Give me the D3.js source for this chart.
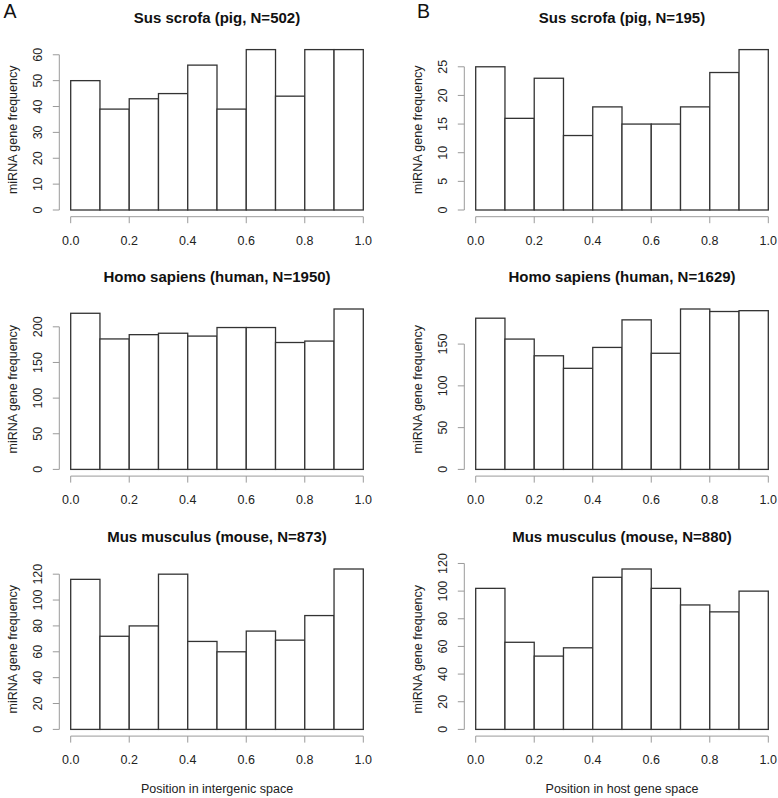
<!DOCTYPE html>
<html>
<head>
<meta charset="utf-8">
<script src="https://cdn.jsdelivr.net/npm/d3@7/dist/d3.min.js"></script>
<style>
  html, body { margin: 0; padding: 0; background: #fff; }
  svg { display: block; font-family: "Liberation Sans", Arial, sans-serif; }
</style>
</head>
<body>
<svg id="chart" width="778" height="798"></svg>
<script>
// ---- data ----
const binEdges = [0, 0.1, 0.2, 0.3, 0.4, 0.5, 0.6, 0.7, 0.8, 0.9, 1.0];
const xTicks = [0, 0.2, 0.4, 0.6, 0.8, 1.0];

const pigIntergenic   = [50, 39, 43, 45, 56, 39, 62, 44, 62, 62];
const pigHost         = [25, 16, 23, 13, 18, 15, 15, 18, 24, 28];
const humanIntergenic = [219, 183, 189, 191, 187, 199, 199, 178, 180, 225];
const humanHost       = [181, 156, 136, 121, 146, 179, 139, 192, 189, 190];
const mouseIntergenic = [116, 72, 80, 120, 68, 60, 76, 69, 88, 124];
const mouseHost       = [102, 63, 53, 59, 110, 116, 102, 90, 85, 100];

const yTicksPigA   = [0, 10, 20, 30, 40, 50, 60];
const yTicksPigB   = [0, 5, 10, 15, 20, 25];
const yTicksHumanA = [0, 50, 100, 150, 200];
const yTicksHumanB = [0, 50, 100, 150];
const yTicksMouseA = [0, 20, 40, 60, 80, 100, 120];
const yTicksMouseB = [0, 20, 40, 60, 80, 100, 120];

const titles = [
  ["Sus scrofa (pig, N=502)", "Sus scrofa (pig, N=195)"],
  ["Homo sapiens (human, N=1950)", "Homo sapiens (human, N=1629)"],
  ["Mus musculus (mouse, N=873)", "Mus musculus (mouse, N=880)"]
];
const seriesGrid = [
  [pigIntergenic, pigHost],
  [humanIntergenic, humanHost],
  [mouseIntergenic, mouseHost]
];
const tickGrid = [
  [yTicksPigA, yTicksPigB],
  [yTicksHumanA, yTicksHumanB],
  [yTicksMouseA, yTicksMouseB]
];
const yLabel = "miRNA gene frequency";
const xLabels = ["Position in intergenic space", "Position in host gene space"];
const panelLetters = ["A", "B"];

// ---- layout ----
const svg = d3.select("#chart");
const colX = [[70.7, 363.3], [475.7, 768.3]];
const rowTop = [0, 259.4, 519.4];
const baseOff = 210, topOff = 49.6;
const barStroke = "#333", axisStroke = "#9a9a9a";
const tickFont = 12.5;

for (let c = 0; c < 2; c++) {
  const x = d3.scaleLinear().domain([0, 1]).range(colX[c]);
  const yAxisX = colX[c][0] - 11.4;
  for (let r = 0; r < 3; r++) {
    const vals = seriesGrid[r][c];
    const ticks = tickGrid[r][c];
    const y0 = rowTop[r] + baseOff;
    const y = d3.scaleLinear().domain([0, d3.max(vals)]).range([y0, rowTop[r] + topOff]);
    const g = svg.append("g");

    // bars
    g.selectAll("rect.bar").data(vals).enter().append("rect")
      .attr("x", (d, i) => x(binEdges[i]))
      .attr("y", d => y(d))
      .attr("width", (d, i) => x(binEdges[i + 1]) - x(binEdges[i]))
      .attr("height", d => y(0) - y(d))
      .attr("fill", "#fff")
      .attr("stroke", barStroke)
      .attr("stroke-width", 1.3);

    // x axis
    const xAxisY = y0 + 6.7;
    const xa = g.append("g");
    xa.append("line").attr("x1", x(0)).attr("x2", x(1)).attr("y1", xAxisY).attr("y2", xAxisY)
      .attr("stroke", axisStroke).attr("stroke-width", 1);
    xa.selectAll("line.t").data(xTicks).enter().append("line")
      .attr("x1", d => x(d)).attr("x2", d => x(d))
      .attr("y1", xAxisY).attr("y2", xAxisY + 6.5)
      .attr("stroke", axisStroke).attr("stroke-width", 1);
    xa.selectAll("text").data(xTicks).enter().append("text")
      .attr("x", d => x(d)).attr("y", xAxisY + 27.8)
      .attr("text-anchor", "middle").attr("font-size", tickFont).attr("fill", "#222")
      .text(d => d3.format(".1f")(d));

    // y axis
    const ya = g.append("g");
    ya.append("line").attr("x1", yAxisX).attr("x2", yAxisX)
      .attr("y1", y(ticks[0])).attr("y2", y(ticks[ticks.length - 1]))
      .attr("stroke", axisStroke).attr("stroke-width", 1);
    ya.selectAll("line.t").data(ticks).enter().append("line")
      .attr("x1", yAxisX - 6.5).attr("x2", yAxisX)
      .attr("y1", d => y(d)).attr("y2", d => y(d))
      .attr("stroke", axisStroke).attr("stroke-width", 1);
    ya.selectAll("text").data(ticks).enter().append("text")
      .attr("transform", d => `translate(${yAxisX - 17.4},${y(d)}) rotate(-90)`)
      .attr("text-anchor", "middle").attr("font-size", tickFont).attr("fill", "#222")
      .text(d => d);

    // y label
    const midY = (y0 + rowTop[r] + topOff) / 2;
    g.append("text")
      .attr("transform", `translate(${yAxisX - 42.5},${midY}) rotate(-90)`)
      .attr("text-anchor", "middle").attr("font-size", tickFont).attr("fill", "#222")
      .text(yLabel);

    // title
    g.append("text")
      .attr("x", (colX[c][0] + colX[c][1]) / 2).attr("y", rowTop[r] + 23)
      .attr("text-anchor", "middle").attr("font-size", 15).attr("font-weight", "bold")
      .attr("fill", "#111")
      .text(titles[r][c]);
  }
  // x label
  svg.append("text")
    .attr("x", (colX[c][0] + colX[c][1]) / 2).attr("y", 793)
    .attr("text-anchor", "middle").attr("font-size", tickFont).attr("fill", "#222")
    .text(xLabels[c]);
  // panel letter
  svg.append("text")
    .attr("x", c === 0 ? 3.5 : 417).attr("y", 18)
    .attr("font-size", 19.5).attr("fill", "#111")
    .text(panelLetters[c]);
}
</script>
</body>
</html>
